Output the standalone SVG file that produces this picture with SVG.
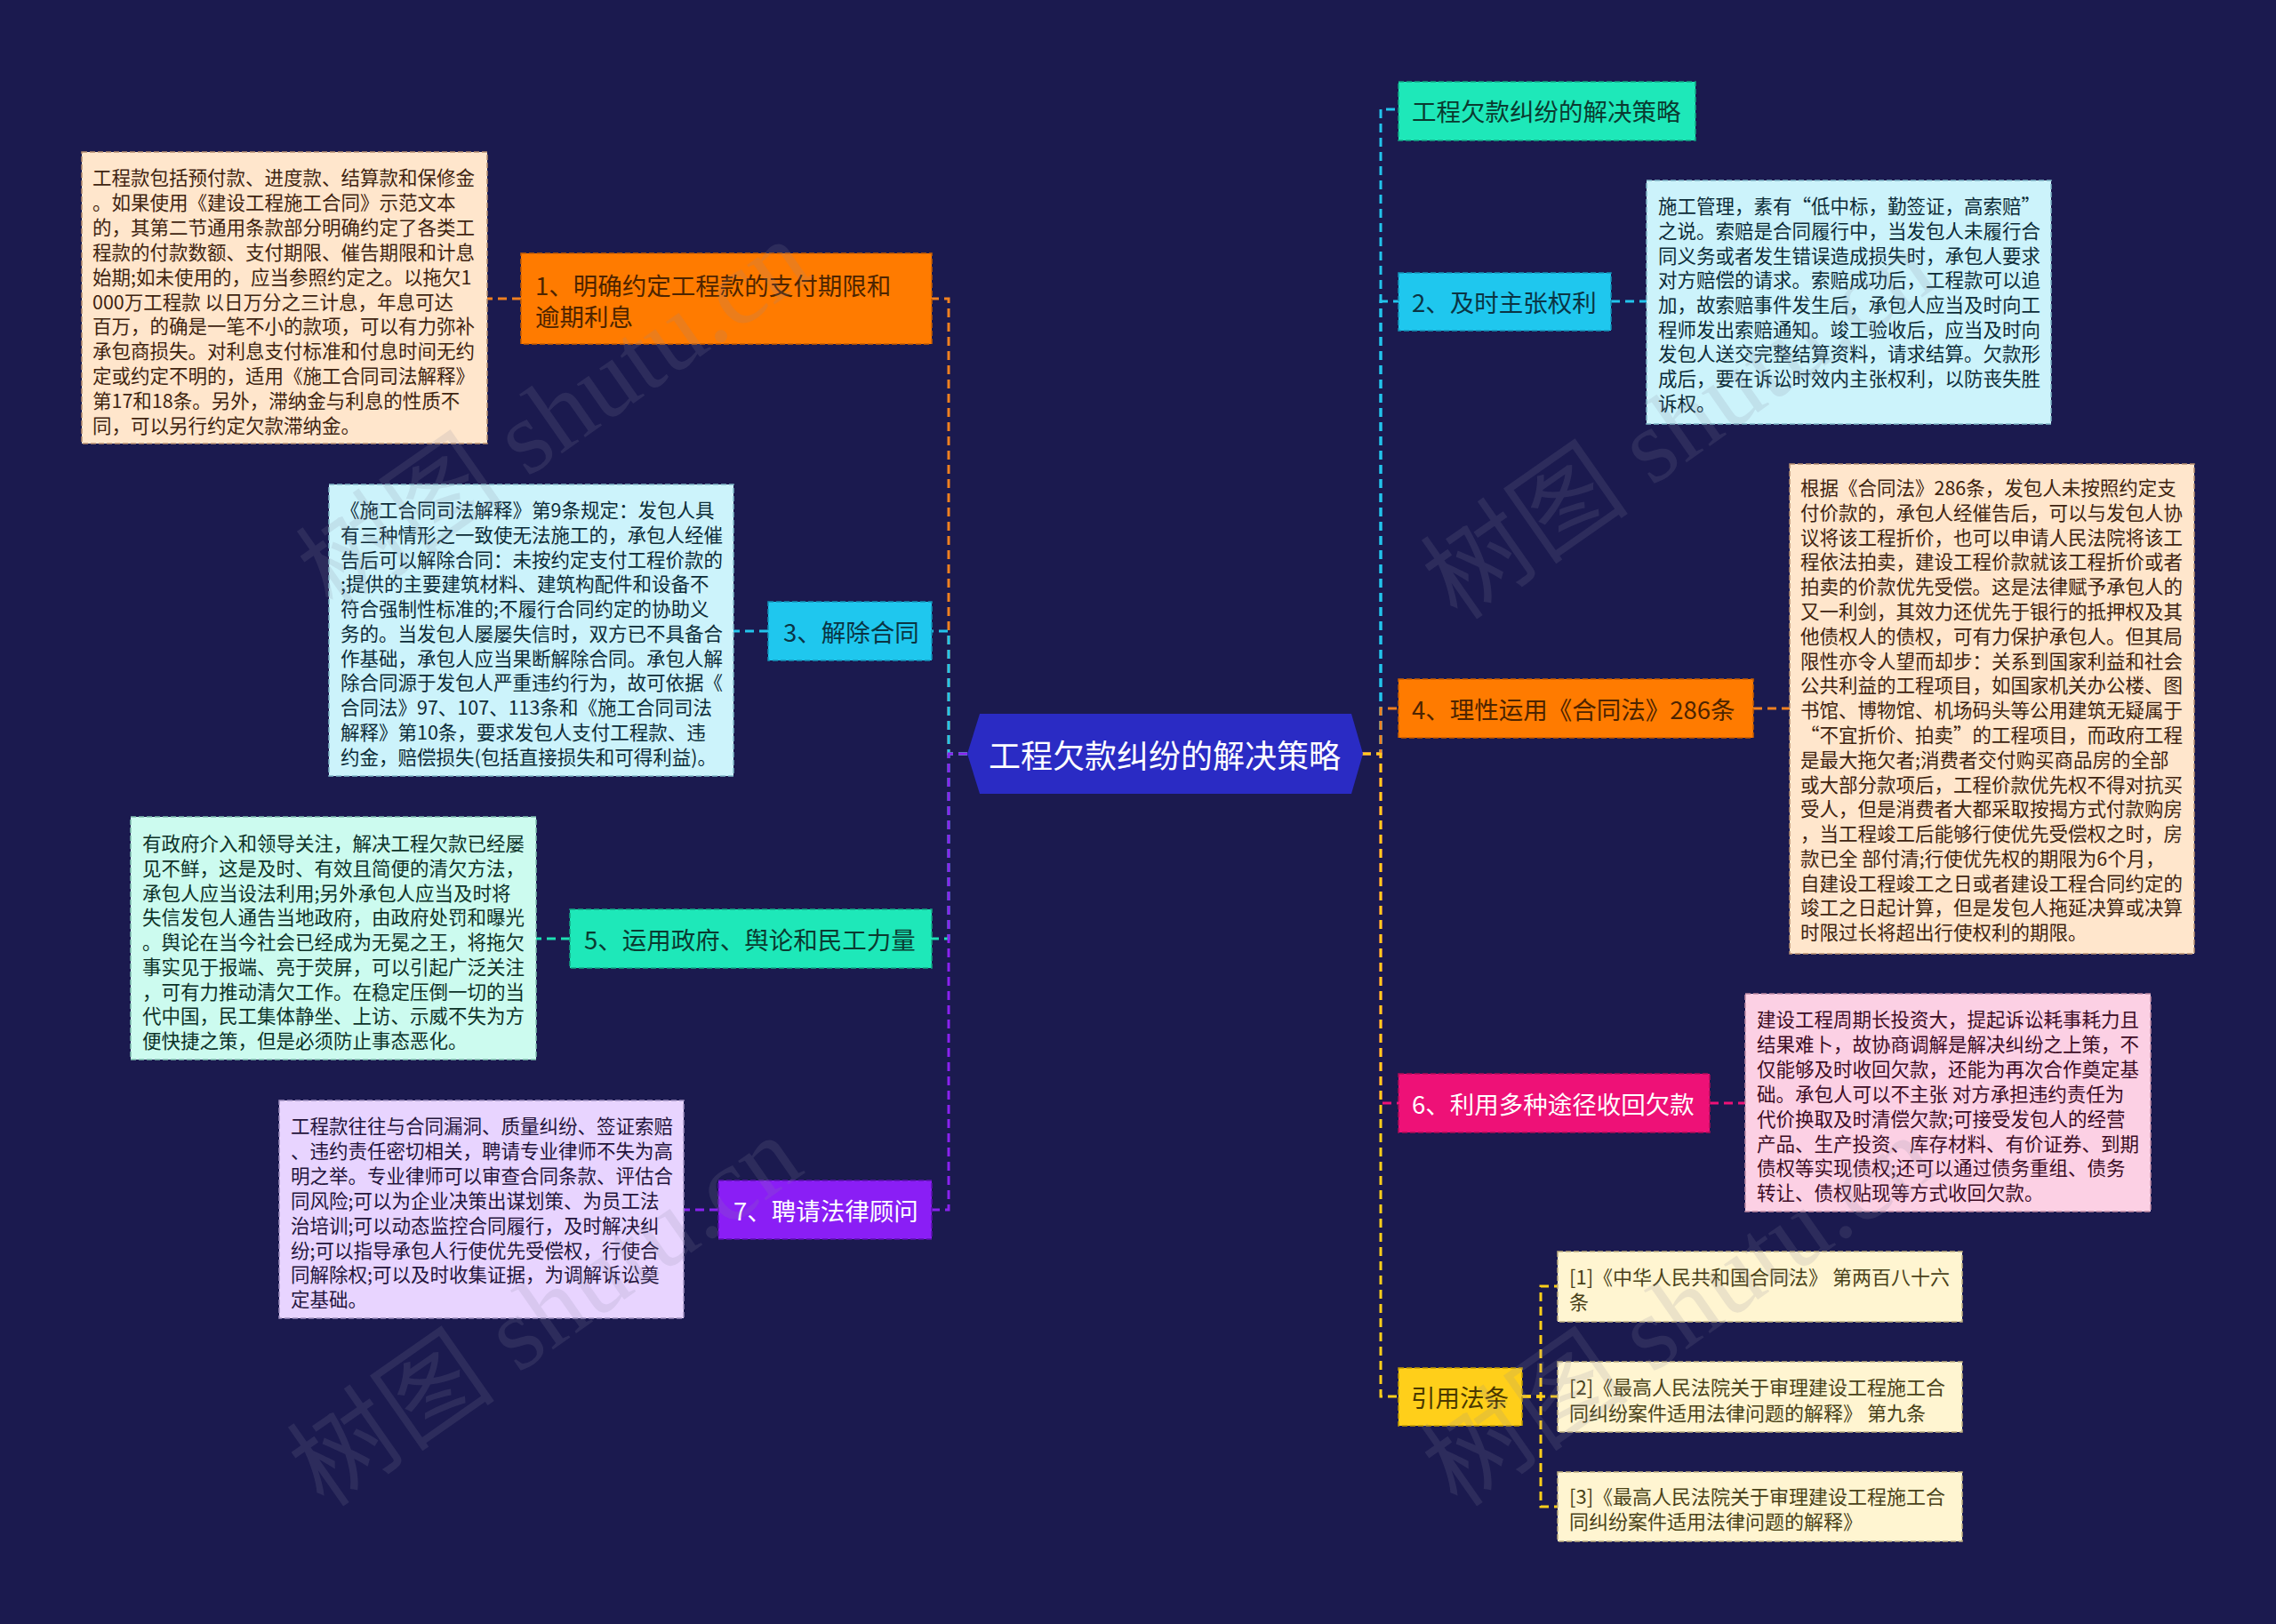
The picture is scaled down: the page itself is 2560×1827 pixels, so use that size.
<svg xmlns="http://www.w3.org/2000/svg" width="2560" height="1827" viewBox="0 0 2560 1827">
<style>
text { font-family: "Noto Sans CJK SC", "Noto Sans", sans-serif; dominant-baseline: central; }
.bt { font-size: 21.5px; }
.nt { font-size: 27.5px; }
.ref { font-size: 22px; fill: #4a4218; }
.box { stroke-width: 1.5; stroke-dasharray: 6 3; }
.con { fill: none; stroke-width: 3; stroke-dasharray: 10 6; }
.wm { font-family: "Liberation Serif", "Noto Sans CJK SC", serif; font-size: 118px; fill: #8a8aa0; fill-opacity: 0.17; dominant-baseline: auto; }
</style>
<rect x="0" y="0" width="2560" height="1827" fill="#1b1a4f"/>

<g id="connectors">
  <path class="con" stroke="#f08020" d="M1088,848 H1067 V336 H1048"/>
  <path class="con" stroke="#22c4ec" d="M1088,848 H1067 V710 H1048"/>
  <path class="con" stroke="#1ee0b4" d="M1088,848 H1067 V1056 H1048"/>
  <path class="con" stroke="#8a22f0" d="M1088,848 H1067 V1361 H1048"/>
  <path class="con" stroke="#f08020" d="M586,336 H548"/>
  <path class="con" stroke="#22c4ec" d="M864,710 H825"/>
  <path class="con" stroke="#1ee0b4" d="M641,1056 H603"/>
  <path class="con" stroke="#8a22f0" d="M808,1361 H769"/>

  <path class="con" stroke="#22c4ec" d="M1532,848 H1553 V123 H1573"/>
  <path class="con" stroke="#22c4ec" d="M1532,848 H1553 V339 H1573"/>
  <path class="con" stroke="#f08020" d="M1532,848 H1553 V797 H1573"/>
  <path class="con" stroke="#ee1177" d="M1532,848 H1553 V1241 H1573"/>
  <path class="con" stroke="#ffcf1a" d="M1532,848 H1553 V1571 H1573"/>
  <path class="con" stroke="#22c4ec" d="M1812,339 H1852"/>
  <path class="con" stroke="#f08020" d="M1972,797 H2013"/>
  <path class="con" stroke="#ee1177" d="M1923,1241 H1963"/>
  <path class="con" stroke="#ffcf1a" stroke-width="2.5" d="M1712,1571 H1733 V1447 H1752"/>
  <path class="con" stroke="#ffcf1a" stroke-width="2.5" d="M1712,1571 H1752"/>
  <path class="con" stroke="#ffcf1a" stroke-width="2.5" d="M1712,1571 H1733 V1695 H1752"/>
</g>

<g id="center">
  <polygon points="1088,848 1102,803 1520,803 1533,848 1520,893 1102,893" fill="#2a2bc4"/>
  <text x="1310" y="848" text-anchor="middle" font-size="36" fill="#ffffff">工程欠款纠纷的解决策略</text>
</g>

<g id="node1">
  <rect class="box" x="586" y="285" width="462" height="102" fill="#ff7b00" stroke="#c85e00"/>
  <text class="nt" fill="#4d2400"><tspan x="602" y="320">1、明确约定工程款的支付期限和</tspan><tspan x="602" y="355">逾期利息</tspan></text>
</g>
<g id="box1">
  <rect class="box" x="92" y="171" width="456" height="328" fill="#ffe6cc" stroke="#b89070"/>
  <text class="bt" fill="#3f2410">
    <tspan x="104" y="198">工程款包括预付款、进度款、结算款和保修金</tspan>
    <tspan x="104" y="226">。如果使用《建设工程施工合同》示范文本</tspan>
    <tspan x="104" y="254">的，其第二节通用条款部分明确约定了各类工</tspan>
    <tspan x="104" y="282">程款的付款数额、支付期限、催告期限和计息</tspan>
    <tspan x="104" y="310">始期;如未使用的，应当参照约定之。以拖欠1</tspan>
    <tspan x="104" y="338">000万工程款 以日万分之三计息，年息可达</tspan>
    <tspan x="104" y="365">百万，的确是一笔不小的款项，可以有力弥补</tspan>
    <tspan x="104" y="393">承包商损失。对利息支付标准和付息时间无约</tspan>
    <tspan x="104" y="421">定或约定不明的，适用《施工合同司法解释》</tspan>
    <tspan x="104" y="449">第17和18条。另外，滞纳金与利息的性质不</tspan>
    <tspan x="104" y="477">同，可以另行约定欠款滞纳金。</tspan>
  </text>
</g>

<g id="node3">
  <rect class="box" x="864" y="677" width="184" height="66" fill="#1fc7ee" stroke="#1494b8"/>
  <text class="nt" x="881" y="710" fill="#0a3444">3、解除合同</text>
</g>
<g id="box3">
  <rect class="box" x="370" y="545" width="455" height="328" fill="#ccf3fb" stroke="#80b8c8"/>
  <text class="bt" fill="#0c2c38">
    <tspan x="383" y="572">《施工合同司法解释》第9条规定：发包人具</tspan>
    <tspan x="383" y="600">有三种情形之一致使无法施工的，承包人经催</tspan>
    <tspan x="383" y="628">告后可以解除合同：未按约定支付工程价款的</tspan>
    <tspan x="383" y="655">;提供的主要建筑材料、建筑构配件和设备不</tspan>
    <tspan x="383" y="683">符合强制性标准的;不履行合同约定的协助义</tspan>
    <tspan x="383" y="711">务的。当发包人屡屡失信时，双方已不具备合</tspan>
    <tspan x="383" y="739">作基础，承包人应当果断解除合同。承包人解</tspan>
    <tspan x="383" y="766">除合同源于发包人严重违约行为，故可依据《</tspan>
    <tspan x="383" y="794">合同法》97、107、113条和《施工合同司法</tspan>
    <tspan x="383" y="822">解释》第10条，要求发包人支付工程款、违</tspan>
    <tspan x="383" y="850">约金，赔偿损失(包括直接损失和可得利益)。</tspan>
  </text>
</g>

<g id="node5">
  <rect class="box" x="641" y="1023" width="407" height="66" fill="#1ee8b9" stroke="#12a884"/>
  <text class="nt" x="657" y="1056" fill="#0a3a30">5、运用政府、舆论和民工力量</text>
</g>
<g id="box5">
  <rect class="box" x="147" y="919" width="456" height="273" fill="#ccfbef" stroke="#80c0b0"/>
  <text class="bt" fill="#0c3228">
    <tspan x="160" y="947">有政府介入和领导关注，解决工程欠款已经屡</tspan>
    <tspan x="160" y="975">见不鲜，这是及时、有效且简便的清欠方法，</tspan>
    <tspan x="160" y="1003">承包人应当设法利用;另外承包人应当及时将</tspan>
    <tspan x="160" y="1030">失信发包人通告当地政府，由政府处罚和曝光</tspan>
    <tspan x="160" y="1058">。舆论在当今社会已经成为无冕之王，将拖欠</tspan>
    <tspan x="160" y="1086">事实见于报端、亮于荧屏，可以引起广泛关注</tspan>
    <tspan x="160" y="1114">，可有力推动清欠工作。在稳定压倒一切的当</tspan>
    <tspan x="160" y="1141">代中国，民工集体静坐、上访、示威不失为方</tspan>
    <tspan x="160" y="1169">便快捷之策，但是必须防止事态恶化。</tspan>
  </text>
</g>

<g id="node7">
  <rect class="box" x="808" y="1328" width="240" height="66" fill="#8a1ef5" stroke="#5c10b0"/>
  <text class="nt" x="825" y="1361" fill="#ffffff">7、聘请法律顾问</text>
</g>
<g id="box7">
  <rect class="box" x="314" y="1238" width="455" height="245" fill="#e8d4ff" stroke="#a090c0"/>
  <text class="bt" fill="#24143c">
    <tspan x="327" y="1265">工程款往往与合同漏洞、质量纠纷、签证索赔</tspan>
    <tspan x="327" y="1293">、违约责任密切相关，聘请专业律师不失为高</tspan>
    <tspan x="327" y="1321">明之举。专业律师可以审查合同条款、评估合</tspan>
    <tspan x="327" y="1349">同风险;可以为企业决策出谋划策、为员工法</tspan>
    <tspan x="327" y="1377">治培训;可以动态监控合同履行，及时解决纠</tspan>
    <tspan x="327" y="1405">纷;可以指导承包人行使优先受偿权，行使合</tspan>
    <tspan x="327" y="1432">同解除权;可以及时收集证据，为调解诉讼奠</tspan>
    <tspan x="327" y="1460">定基础。</tspan>
  </text>
</g>

<g id="nodeTop">
  <rect class="box" x="1573" y="92" width="334" height="66" fill="#1ee8b9" stroke="#12a884"/>
  <text class="nt" x="1588" y="124" fill="#0a3a30">工程欠款纠纷的解决策略</text>
</g>

<g id="node2">
  <rect class="box" x="1573" y="307" width="239" height="65" fill="#1fc7ee" stroke="#1494b8"/>
  <text class="nt" x="1588" y="339" fill="#0a3444">2、及时主张权利</text>
</g>
<g id="box2">
  <rect class="box" x="1852" y="203" width="455" height="274" fill="#ccf3fb" stroke="#80b8c8"/>
  <text class="bt" fill="#0c2c38">
    <tspan x="1865" y="230">施工管理，素有“低中标，勤签证，高索赔”</tspan>
    <tspan x="1865" y="258">之说。索赔是合同履行中，当发包人未履行合</tspan>
    <tspan x="1865" y="286">同义务或者发生错误造成损失时，承包人要求</tspan>
    <tspan x="1865" y="313">对方赔偿的请求。索赔成功后，工程款可以追</tspan>
    <tspan x="1865" y="341">加，故索赔事件发生后，承包人应当及时向工</tspan>
    <tspan x="1865" y="369">程师发出索赔通知。竣工验收后，应当及时向</tspan>
    <tspan x="1865" y="396">发包人送交完整结算资料，请求结算。欠款形</tspan>
    <tspan x="1865" y="424">成后，要在诉讼时效内主张权利，以防丧失胜</tspan>
    <tspan x="1865" y="452">诉权。</tspan>
  </text>
</g>

<g id="node4">
  <rect class="box" x="1573" y="764" width="399" height="66" fill="#ff7b00" stroke="#c85e00"/>
  <text class="nt" x="1588" y="797" fill="#4d2400">4、理性运用《合同法》286条</text>
</g>
<g id="box4">
  <rect class="box" x="2013" y="522" width="455" height="551" fill="#ffe6cc" stroke="#b89070"/>
  <text class="bt" fill="#3f2410">
    <tspan x="2025" y="547">根据《合同法》286条，发包人未按照约定支</tspan>
    <tspan x="2025" y="575">付价款的，承包人经催告后，可以与发包人协</tspan>
    <tspan x="2025" y="603">议将该工程折价，也可以申请人民法院将该工</tspan>
    <tspan x="2025" y="630">程依法拍卖，建设工程价款就该工程折价或者</tspan>
    <tspan x="2025" y="658">拍卖的价款优先受偿。这是法律赋予承包人的</tspan>
    <tspan x="2025" y="686">又一利剑，其效力还优先于银行的抵押权及其</tspan>
    <tspan x="2025" y="714">他债权人的债权，可有力保护承包人。但其局</tspan>
    <tspan x="2025" y="742">限性亦令人望而却步：关系到国家利益和社会</tspan>
    <tspan x="2025" y="769">公共利益的工程项目，如国家机关办公楼、图</tspan>
    <tspan x="2025" y="797">书馆、博物馆、机场码头等公用建筑无疑属于</tspan>
    <tspan x="2025" y="825">“不宜折价、拍卖”的工程项目，而政府工程</tspan>
    <tspan x="2025" y="853">是最大拖欠者;消费者交付购买商品房的全部</tspan>
    <tspan x="2025" y="881">或大部分款项后，工程价款优先权不得对抗买</tspan>
    <tspan x="2025" y="908">受人，但是消费者大都采取按揭方式付款购房</tspan>
    <tspan x="2025" y="936">，当工程竣工后能够行使优先受偿权之时，房</tspan>
    <tspan x="2025" y="964">款已全 部付清;行使优先权的期限为6个月，</tspan>
    <tspan x="2025" y="992">自建设工程竣工之日或者建设工程合同约定的</tspan>
    <tspan x="2025" y="1019">竣工之日起计算，但是发包人拖延决算或决算</tspan>
    <tspan x="2025" y="1047">时限过长将超出行使权利的期限。</tspan>
  </text>
</g>

<g id="node6">
  <rect class="box" x="1573" y="1208" width="350" height="66" fill="#ee1177" stroke="#b00c58"/>
  <text class="nt" x="1588" y="1241" fill="#ffffff">6、利用多种途径收回欠款</text>
</g>
<g id="box6">
  <rect class="box" x="1963" y="1118" width="456" height="245" fill="#fcd0e4" stroke="#c08aa4"/>
  <text class="bt" fill="#3c0c24">
    <tspan x="1976" y="1145">建设工程周期长投资大，提起诉讼耗事耗力且</tspan>
    <tspan x="1976" y="1173">结果难卜，故协商调解是解决纠纷之上策，不</tspan>
    <tspan x="1976" y="1201">仅能够及时收回欠款，还能为再次合作奠定基</tspan>
    <tspan x="1976" y="1229">础。承包人可以不主张 对方承担违约责任为</tspan>
    <tspan x="1976" y="1257">代价换取及时清偿欠款;可接受发包人的经营</tspan>
    <tspan x="1976" y="1285">产品、生产投资、库存材料、有价证券、到期</tspan>
    <tspan x="1976" y="1312">债权等实现债权;还可以通过债务重组、债务</tspan>
    <tspan x="1976" y="1340">转让、债权贴现等方式收回欠款。</tspan>
  </text>
</g>

<g id="nodeRefs">
  <rect class="box" x="1573" y="1539" width="139" height="65" fill="#ffcf1a" stroke="#c09a00"/>
  <text class="nt" x="1642" y="1571" text-anchor="middle" fill="#4a3800">引用法条</text>
</g>
<g id="ref1">
  <rect class="box" x="1752" y="1408" width="455" height="79" fill="#fff5d1" stroke="#c0b080"/>
  <text class="ref"><tspan x="1765" y="1435">[1]《中华人民共和国合同法》 第两百八十六</tspan><tspan x="1765" y="1463">条</tspan></text>
</g>
<g id="ref2">
  <rect class="box" x="1752" y="1532" width="455" height="79" fill="#fff5d1" stroke="#c0b080"/>
  <text class="ref"><tspan x="1765" y="1559">[2]《最高人民法院关于审理建设工程施工合</tspan><tspan x="1765" y="1588">同纠纷案件适用法律问题的解释》 第九条</tspan></text>
</g>
<g id="ref3">
  <rect class="box" x="1752" y="1656" width="455" height="78" fill="#fff5d1" stroke="#c0b080"/>
  <text class="ref"><tspan x="1765" y="1682">[3]《最高人民法院关于审理建设工程施工合</tspan><tspan x="1765" y="1710">同纠纷案件适用法律问题的解释》</tspan></text>
</g>

<g id="watermark">
  <text class="wm" x="375" y="690" transform="rotate(-35 375 690)">树图 shutu.cn</text>
  <text class="wm" x="1640" y="700" transform="rotate(-35 1640 700)">树图 shutu.cn</text>
  <text class="wm" x="365" y="1698" transform="rotate(-35 365 1698)">树图 shutu.cn</text>
  <text class="wm" x="1640" y="1698" transform="rotate(-35 1640 1698)">树图 shutu.cn</text>
</g>
</svg>
